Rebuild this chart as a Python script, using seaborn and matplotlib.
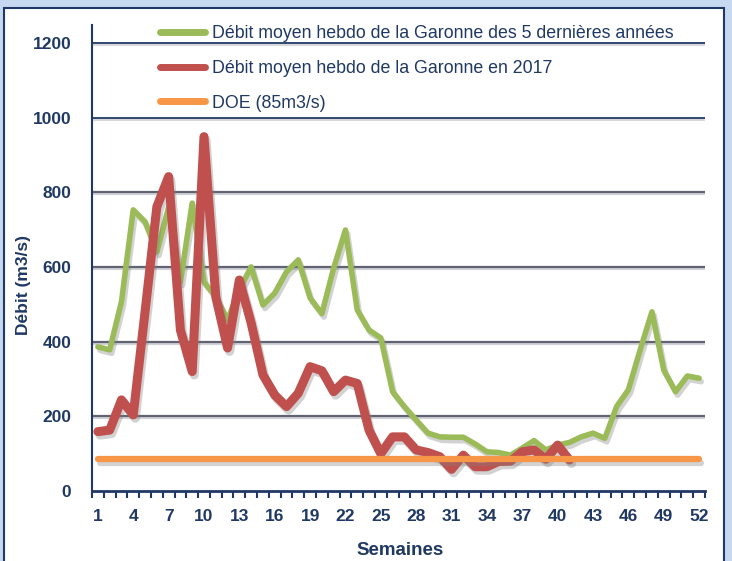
import numpy as np
import pandas as pd
import matplotlib
matplotlib.use("Agg")
import matplotlib.pyplot as plt
import matplotlib.patheffects as pe
from matplotlib.patches import Rectangle
import seaborn as sns

# ---- data ----
weeks = list(range(1, 53))
debit_5ans = [386, 378, 507, 753, 721, 640, 760, 560, 771, 560,
              520, 458, 540, 600, 498, 530, 587, 619, 517, 475,
              597, 699, 485, 431, 410, 266, 226, 190, 155, 145,
              144, 144, 126, 105, 103, 96, 115, 135, 110, 123,
              130, 145, 155, 141, 226, 271, 378, 480, 324, 266,
              308, 302]
weeks_2017 = list(range(1, 42))
debit_2017 = [159, 163, 244, 204, 480, 761, 842, 431, 320, 949,
              520, 383, 565, 450, 311, 257, 226, 262, 333, 322,
              266, 297, 288, 163, 100, 145, 145, 110, 103, 92,
              58, 96, 65, 65, 79, 80, 105, 110, 85, 123,
              83]
doe_value = 85
doe = [doe_value] * len(weeks)
label_5ans = "Débit moyen hebdo de la Garonne des 5 dernières années"
label_2017 = "Débit moyen hebdo de la Garonne en 2017"
label_doe = "DOE (85m3/s)"
xtick_labels = list(range(1, 53, 3))
ytick_values = [0, 200, 400, 600, 800, 1000, 1200]

sns.set_theme(style="white")
plt.rcParams['font.family'] = ['Liberation Sans', 'DejaVu Sans']

navy = "#1f3864"
green = "#9bbb59"
red = "#c0504d"
orange = "#f79646"

W, H = 732, 561
fig = plt.figure(figsize=(W / 100, H / 100), dpi=100)
fig.patch.set_facecolor("#c6d9f1")
panel = Rectangle((4 / W, -0.05), (724 - 4) / W, 1.05 - 8 / H,
                  transform=fig.transFigure, facecolor="white",
                  edgecolor=navy, linewidth=1.5, zorder=-10)
fig.patches.append(panel)

ax = fig.add_axes([92 / W, 1 - 491 / H, (705 - 92) / W, (491 - 25) / H])
ax.set_zorder(5)
ax.set_facecolor("white")

df5 = pd.DataFrame({"Semaine": weeks, "Débit": debit_5ans})
df17 = pd.DataFrame({"Semaine": weeks_2017, "Débit": debit_2017})
dfd = pd.DataFrame({"Semaine": weeks, "Débit": doe})

shadow = [pe.SimpleLineShadow(offset=(1.5, -2.5), shadow_color="#808080", alpha=0.35), pe.Normal()]

sns.lineplot(data=df5, x="Semaine", y="Débit", ax=ax, color=green, linewidth=4,
             label=label_5ans, zorder=3)
sns.lineplot(data=df17, x="Semaine", y="Débit", ax=ax, color=red, linewidth=6.5,
             label=label_2017, zorder=4)
sns.lineplot(data=dfd, x="Semaine", y="Débit", ax=ax, color=orange, linewidth=4.5,
             label=label_doe, zorder=5)
for ln in ax.get_lines():
    ln.set_path_effects(shadow)
    ln.set_solid_capstyle("round")
    ln.set_solid_joinstyle("round")

# gridlines
for v in ytick_values[1:]:
    col = navy if v >= 1000 else "#5f6372"
    ax.axhline(v, color=col, linewidth=1.6 if v < 1000 else 1.3, zorder=1,
               path_effects=[pe.SimpleLineShadow(offset=(0, -1.5), shadow_color="#9090a0", alpha=0.4), pe.Normal()])

ax.set_xlim(0.5, 52.5)
ax.set_ylim(0, 1248)
ax.set_yticks(ytick_values)
ax.set_xticks(xtick_labels)
ax.set_xticks(np.arange(0.5, 53, 1.0), minor=True)
ax.tick_params(axis="x", which="major", length=0, pad=13, labelsize=12.5, labelcolor=navy)
ax.tick_params(axis="x", which="minor", length=5, width=1.5, color=navy, direction="out", bottom=True)
ax.tick_params(axis="y", which="major", length=0, pad=15, labelsize=12.5, labelcolor=navy)
for lab in ax.get_xticklabels() + ax.get_yticklabels():
    lab.set_fontweight("bold")

for s in ["top", "right"]:
    ax.spines[s].set_visible(False)
ax.spines["left"].set_color(navy)
ax.spines["left"].set_linewidth(1.5)
ax.spines["bottom"].set_color(navy)
ax.spines["bottom"].set_linewidth(2)

ax.set_xlabel("Semaines", fontsize=13.5, fontweight="bold", color=navy)
ax.set_ylabel("Débit (m3/s)", fontsize=12.5, fontweight="bold", color=navy)
ax.xaxis.set_label_coords(0.502, -0.11)
ax.yaxis.set_label_coords(-0.099, 0.442)

leg = ax.legend(loc="upper left", bbox_to_anchor=(160 / W, 1 - 25 / H),
                bbox_transform=fig.transFigure, frameon=False, fontsize=12.8,
                handlelength=2.55, handletextpad=0.4, labelspacing=1.0,
                borderaxespad=0, borderpad=0)
for t in leg.get_texts():
    t.set_color(navy)
for h in leg.get_lines():
    h.set_linewidth(5)
    h.set_path_effects([])
    h.set_solid_capstyle("round")

fig.savefig("out.png", dpi=100, facecolor=fig.get_facecolor())
